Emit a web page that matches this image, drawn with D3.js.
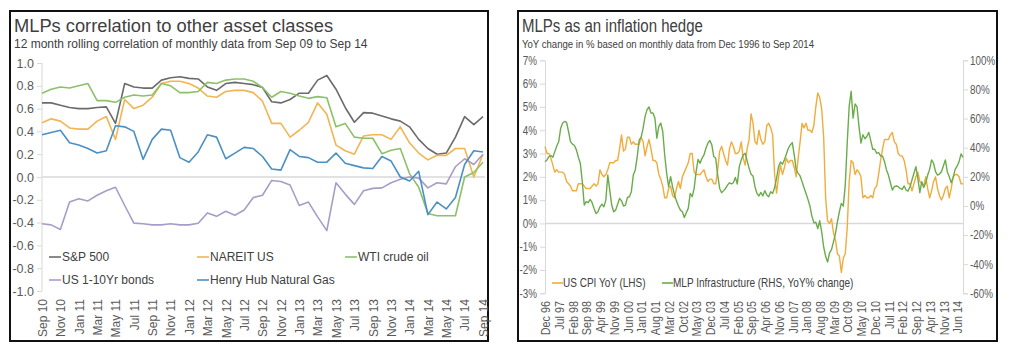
<!DOCTYPE html>
<html><head><meta charset="utf-8">
<script src="https://cdn.jsdelivr.net/npm/d3@7"></script>
<style>body{margin:0;background:#fff}svg{display:block}</style>
</head><body>
<svg id="c" width="1017" height="359"></svg>
<script>
// ---------- LEFT PANEL DATA ----------
const leftStart = "Sep 10", leftEnd = "Sep 14";
const leftXTicks = ["Sep 10","Nov 10","Jan 11","Mar 11","May 11","Jul 11","Sep 11","Nov 11","Jan 12","Mar 12","May 12","Jul 12","Sep 12","Nov 12","Jan 13","Mar 13","May 13","Jul 13","Sep 13","Nov 13","Jan 14","Mar 14","May 14","Jul 14","Sep 14"];
const leftYTicks = [-1.0,-0.8,-0.6,-0.4,-0.2,0.0,0.2,0.4,0.6,0.8,1.0];
const sp500 = [0.65,0.65,0.63,0.61,0.60,0.60,0.61,0.615,0.47,0.82, 0.79,0.78,0.78,0.85,0.87,0.88,0.865,0.86,0.79,0.76, 0.82,0.83,0.82,0.81,0.785,0.66,0.65,0.68,0.735,0.735, 0.85,0.89,0.77,0.61,0.48,0.565,0.56,0.535,0.51,0.49, 0.44,0.33,0.25,0.20,0.21,0.35,0.53,0.46,0.53];
const nareit = [0.476,0.51,0.49,0.43,0.42,0.42,0.49,0.53,0.33,0.68, 0.60,0.63,0.70,0.82,0.84,0.84,0.82,0.78,0.71,0.70, 0.75,0.76,0.76,0.74,0.665,0.47,0.47,0.35,0.41,0.48, 0.65,0.55,0.28,0.23,0.20,0.36,0.37,0.37,0.33,0.44, 0.30,0.21,0.15,0.19,0.19,0.25,0.25,0.0,0.20];
const wti = [0.735,0.77,0.79,0.78,0.80,0.82,0.67,0.67,0.655,0.70, 0.72,0.71,0.72,0.82,0.80,0.74,0.74,0.75,0.83,0.82, 0.85,0.86,0.86,0.84,0.785,0.70,0.75,0.735,0.71,0.69, 0.705,0.695,0.44,0.47,0.35,0.34,0.34,0.205,0.235,0.25, 0.03,-0.09,-0.32,-0.34,-0.34,-0.34,0.0,0.04,0.13];
const bonds = [-0.41,-0.42,-0.46,-0.22,-0.19,-0.21,-0.16,-0.12,-0.09,-0.25, -0.405,-0.41,-0.42,-0.42,-0.41,-0.42,-0.42,-0.405,-0.315,-0.345, -0.30,-0.335,-0.29,-0.18,-0.16,-0.03,-0.04,-0.07,-0.25,-0.22, -0.35,-0.47,-0.05,-0.15,-0.24,-0.12,-0.10,-0.095,-0.05,-0.02, 0.0,-0.01,-0.095,-0.05,-0.06,0.09,0.16,0.11,0.20];
const gas = [0.37,0.39,0.41,0.30,0.28,0.25,0.21,0.23,0.45,0.44, 0.40,0.155,0.33,0.42,0.41,0.17,0.13,0.22,0.37,0.35, 0.16,0.21,0.26,0.25,0.18,0.07,0.06,0.24,0.18,0.17, 0.13,0.13,0.21,0.12,0.10,0.08,0.075,0.18,0.14,0.0, -0.035,0.05,-0.33,-0.22,-0.28,-0.18,0.11,0.23,0.22];
const leftSeriesNames = ["S&P 500","NAREIT US","WTI crude oil","US 1-10Yr bonds","Henry Hub Natural Gas"];
const leftSeriesColors = ["#6b6b6b","#f2b552","#8cc06a","#a89cc8","#4a90c4"];

// ---------- RIGHT PANEL DATA ----------
const rightStart = "Dec 96", rightEnd = "Sep 14";
const rightXTicks = ["Dec 96","Jul 97","Feb 98","Sep 98","Apr 99","Nov 99","Jun 00","Jan 01","Aug 01","Mar 02","Oct 02","May 03","Dec 03","Jul 04","Feb 05","Sep 05","Apr 06","Nov 06","Jun 07","Jan 08","Aug 08","Mar 09","Oct 09","May 10","Dec 10","Jul 11","Feb 12","Sep 12","Apr 13","Nov 13","Jun 14"];
const cpiTicks = [-3,-2,-1,0,1,2,3,4,5,6,7];
const mlpTicks = [-60,-40,-20,0,20,40,60,80,100];
const cpi = [3.3,
 3.0,3.0,2.8,2.5,2.2,2.3,2.2,2.2,2.2,2.1,1.8,1.7,
 1.6,1.4,1.4,1.4,1.7,1.7,1.7,1.6,1.5,1.5,1.5,1.6,
 1.7,1.6,1.7,2.3,2.1,2.0,2.1,2.3,2.6,2.6,2.6,2.7,
 2.7,3.2,3.8,3.1,3.2,3.7,3.7,3.4,3.5,3.4,3.4,3.4,
 3.7,3.5,2.9,3.3,3.6,3.2,2.7,2.7,2.6,2.1,1.9,1.6,
 1.1,1.1,1.5,1.6,1.2,1.1,1.5,1.8,1.5,2.0,2.2,2.4,
 2.6,3.0,3.0,2.2,2.1,2.1,2.1,2.2,2.3,2.0,1.8,1.9,
 1.9,1.7,1.7,2.3,3.1,3.3,3.0,2.7,2.5,3.2,3.5,3.3,
 3.0,3.0,3.1,3.5,2.8,2.5,3.2,3.6,4.7,4.3,3.5,3.4,
 4.0,3.6,3.4,3.5,4.2,4.3,4.1,3.8,2.1,1.3,2.0,2.5,
 2.1,2.4,2.8,2.6,2.7,2.7,2.4,2.0,2.8,3.5,4.3,4.1,
 4.3,4.0,4.0,3.9,4.2,5.0,5.6,5.4,4.9,3.7,1.1,0.1,
 0.0,0.2,-0.4,-0.7,-1.3,-1.4,-2.1,-1.5,-1.3,-0.2,1.8,2.7,
 2.6,2.1,2.3,2.2,2.0,1.1,1.2,1.1,1.1,1.2,1.1,1.5,
 1.6,2.1,2.7,3.2,3.6,3.6,3.6,3.8,3.9,3.5,3.4,3.0,
 2.9,2.9,2.7,2.3,1.7,1.7,1.4,1.7,2.0,2.2,1.8,1.7,
 1.6,2.0,1.5,1.1,1.4,1.8,2.0,1.5,1.2,1.0,1.2,1.5,
 1.6,1.1,1.5,2.0,2.1,2.1,2.0,1.7,1.7];
const mlp = [30.4,
 31.6,33.9,34.6,33.4,37.3,41.2,44.2,53.4,56.9,58.0,57.3,51.1,
 44.2,42.4,41.5,38.5,33.4,29.3,16.7,0.6,2.9,2.2,4.5,2.2,
 -1.7,-5.2,-4.0,-0.6,1.2,-0.6,4.0,21.2,10.9,0.6,-4.0,-2.9,
 1.2,5.1,3.5,-0.1,0.6,5.8,6.3,9.8,21.2,24.7,33.9,45.4,
 47.2,53.4,61.5,66.1,68.0,63.8,63.8,60.3,46.5,54.6,56.9,51.1,
 35.0,22.4,13.2,20.1,13.2,7.5,3.3,-0.1,-2.9,-4.0,-8.0,-4.7,
 -1.7,8.6,6.3,12.0,23.5,32.0,29.3,32.7,35.0,39.6,43.1,44.9,
 41.9,33.9,32.7,21.2,12.0,9.1,10.5,12.0,14.3,15.9,15.1,15.9,
 19.6,15.1,27.0,31.6,35.0,36.2,31.1,25.8,21.8,20.6,13.2,8.6,
 6.8,9.3,6.8,10.5,7.5,6.3,9.8,8.6,12.7,18.9,27.0,30.2,
 28.6,31.6,35.7,39.6,41.9,43.5,35.0,24.7,22.4,20.6,16.7,12.5,
 8.6,4.5,-0.1,-7.0,-11.6,-11.2,-15.5,-10.2,-17.8,-28.2,-34.6,-38.5,
 -32.3,-30.0,-24.7,-19.0,-10.9,-4.0,1.7,-0.1,14.3,43.1,68.4,78.7,
 60.3,70.0,68.0,54.6,43.1,48.9,46.1,47.7,50.5,44.9,38.9,38.9,
 36.2,36.6,34.3,34.3,30.4,24.7,21.2,15.9,10.9,13.2,13.7,13.2,
 12.0,11.4,13.7,10.9,10.2,13.2,17.8,22.4,27.0,18.9,9.1,16.7,
 12.7,15.9,21.2,25.1,31.6,29.3,23.5,21.2,21.9,23.5,27.4,31.6,
 23.5,20.1,15.9,19.6,25.1,27.4,30.4,35.7,33.4];
const rightSeriesNames = ["US CPI YoY (LHS)","MLP Infrastructure (RHS, YoY% change)"];
const rightSeriesColors = ["#f0ac3c","#6aac4c"];

// ---------- HELPERS ----------
const parseM = d3.timeParse("%b %y"), fmtM = d3.timeFormat("%b %y");
function monthRange(a, b){ return d3.timeMonth.range(parseM(a), d3.timeMonth.offset(parseM(b),1)).map(fmtM); }
const svg = d3.select("#c");
const SANS = "'Liberation Sans', Arial, sans-serif";
const GRID = "#d9d9d9", TXT = "#404040", TICK = "#595959";
const NARROW_F = 0.82;
function narrow(sel){
  sel.each(function(){
    const L = this.getComputedTextLength();
    d3.select(this).attr("textLength", L*NARROW_F).attr("lengthAdjust","spacingAndGlyphs");
  });
}

function frame(x0,y0,x1,y1){
  svg.append("rect").attr("x",x0).attr("y",y0).attr("width",x1-x0).attr("height",y1-y0)
    .attr("fill","#fff").attr("stroke","#111").attr("stroke-width",2);
}
function styleAxis(g, size){
  g.select(".domain").attr("stroke",GRID);
  g.selectAll(".tick line").attr("stroke",GRID);
  g.selectAll("text").attr("fill",TICK).style("font-family",SANS).style("font-size",size+"px");
}

// ================= LEFT PANEL =================
frame(10,11,488,341);
svg.append("text").attr("x",14).attr("y",31.5).text("MLPs correlation to other asset classes")
  .style("font-family",SANS).style("font-size","18.3px").attr("fill",TXT);
svg.append("text").attr("x",14).attr("y",47.5).text("12 month rolling correlation of monthly data from Sep 09 to Sep 14")
  .style("font-family",SANS).style("font-size","12px").attr("fill",TXT);

const lMonths = monthRange(leftStart, leftEnd);
const xL = d3.scalePoint().domain(lMonths).range([42,483]);
const yL = d3.scaleLinear().domain([-1,1]).range([291,63]);

const gyL = svg.append("g").attr("transform","translate(42,0)")
  .call(d3.axisLeft(yL).tickValues(leftYTicks).tickSize(5).tickPadding(3).tickFormat(d=>d.toFixed(1)));
styleAxis(gyL, 12.5);
gyL.select(".domain").attr("d", `M0,${yL(-1)}V${yL(1)}`);

svg.append("line").attr("x1",42).attr("x2",485).attr("y1",yL(0)).attr("y2",yL(0)).attr("stroke",GRID).attr("stroke-width",1.5);

const gxL = svg.append("g").attr("transform","translate(0,299)")
  .call(d3.axisBottom(xL).tickValues(leftXTicks).tickSize(0));
gxL.select(".domain").remove();
styleAxis(gxL, 12);
gxL.selectAll("text").attr("transform","rotate(-90)").attr("text-anchor","end").attr("x",0).attr("y",0).attr("dy","0.36em");

const leftSeries = [sp500, nareit, wti, bonds, gas];
const lineL = d3.line().x((d,i)=>xL(lMonths[i])).y(d=>yL(d));
leftSeries.forEach((s,k)=>{
  svg.append("path").datum(s).attr("d",lineL).attr("fill","none")
    .attr("stroke",leftSeriesColors[k]).attr("stroke-width",1.6).attr("stroke-linejoin","round");
});

const lLegPos = [[49,257],[197,257],[345,257],[49,280],[197,280]];
leftSeriesNames.forEach((n,k)=>{
  const [lx,ly] = lLegPos[k];
  svg.append("line").attr("x1",lx).attr("x2",lx+12).attr("y1",ly).attr("y2",ly).attr("stroke",leftSeriesColors[k]).attr("stroke-width",1.6);
  svg.append("text").attr("x",lx+13).attr("y",ly+4.3).text(n).style("font-family",SANS).style("font-size","12px").attr("fill",TXT);
});

// ================= RIGHT PANEL =================
frame(518,11,997,341);
svg.append("text").attr("x",522).attr("y",31.5).text("MLPs as an inflation hedge")
  .style("font-family",SANS).style("font-size","18.3px").attr("fill",TXT).call(narrow);
svg.append("text").attr("x",522).attr("y",47.5).text("YoY change in % based on monthly data from Dec 1996 to Sep 2014")
  .style("font-family",SANS).style("font-size","11.7px").attr("fill",TXT).call(narrow);

const rMonths = monthRange(rightStart, rightEnd);
const xR = d3.scalePoint().domain(rMonths).range([545,963]);
const yC = d3.scaleLinear().domain([-3,7]).range([293.3,60.3]);
const yM = d3.scaleLinear().domain([-60,100]).range([293.3,60.3]);

const gyC = svg.append("g").attr("transform","translate(545,0)")
  .call(d3.axisLeft(yC).tickValues(cpiTicks).tickSize(5).tickPadding(3).tickFormat(d=>d+"%"));
styleAxis(gyC, 12);
gyC.selectAll("text").call(narrow);
const gyM = svg.append("g").attr("transform","translate(963,0)")
  .call(d3.axisRight(yM).tickValues(mlpTicks).tickSize(5).tickPadding(2).tickFormat(d=>d+"%"));
styleAxis(gyM, 12);
gyM.selectAll("text").call(narrow);

svg.append("line").attr("x1",545).attr("x2",963).attr("y1",yC(0)).attr("y2",yC(0)).attr("stroke",GRID).attr("stroke-width",1.5);

const gxR = svg.append("g").attr("transform","translate(0,301)")
  .call(d3.axisBottom(xR).tickValues(rightXTicks).tickSize(0));
gxR.select(".domain").remove();
styleAxis(gxR, 13.2);
gxR.selectAll("text").attr("transform","rotate(-90)").attr("text-anchor","end").attr("x",0).attr("y",0).attr("dy","0.36em").call(narrow);

svg.append("path").datum(cpi).attr("fill","none").attr("stroke",rightSeriesColors[0]).attr("stroke-width",1.4).attr("stroke-linejoin","round")
  .attr("d", d3.line().x((d,i)=>xR(rMonths[i])).y(d=>yC(d)));
svg.append("path").datum(mlp).attr("fill","none").attr("stroke",rightSeriesColors[1]).attr("stroke-width",1.4).attr("stroke-linejoin","round")
  .attr("d", d3.line().x((d,i)=>xR(rMonths[i])).y(d=>yM(d)));

const rLegPos = [[552,283],[662,283]];
rightSeriesNames.forEach((n,k)=>{
  const [lx,ly] = rLegPos[k];
  svg.append("line").attr("x1",lx).attr("x2",lx+11).attr("y1",ly).attr("y2",ly).attr("stroke",rightSeriesColors[k]).attr("stroke-width",1.6);
  svg.append("text").attr("x",lx+11).attr("y",ly+4.3).text(n).style("font-family",SANS).style("font-size","12.2px").attr("fill",TXT).call(narrow);
});
</script>
</body></html>
